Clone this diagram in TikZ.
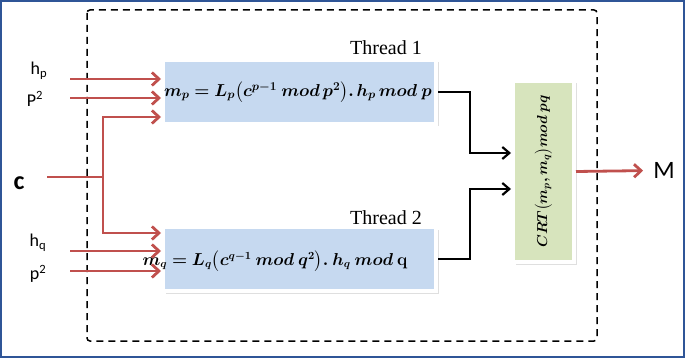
\documentclass[tikz,border=0pt]{standalone}
\usepackage{amsmath, bm}
\usepackage[no-math]{fontspec}
\setmainfont{Liberation Serif}
\newfontfamily\labelfont{Carlito}
\usetikzlibrary{positioning, arrows.meta, shadows, calc}
\definecolor{frameblue}{RGB}{47, 85, 151}
\definecolor{arrred}{RGB}{192, 80, 77}
\definecolor{boxblue}{RGB}{198, 217, 240}
\definecolor{boxgreen}{RGB}{215, 228, 189}

\begin{document}
\begin{tikzpicture}[x=1pt, y=-1pt,
      blk/.style={fill=boxblue, draw=white, line width=4pt, minimum width=273pt, minimum height=64pt, drop shadow={shadow xshift=2.5pt, shadow yshift=-2.5pt, opacity=0.25}},
      grn/.style={fill=boxgreen, draw=white, line width=4pt, minimum width=61pt, minimum height=181pt, drop shadow={shadow xshift=2.5pt, shadow yshift=-2.5pt, opacity=0.25}},
      lab/.style={font=\labelfont\fontsize{18}{20}\selectfont, inner sep=0pt},
      big/.style={font=\labelfont\fontsize{25}{27}\selectfont, inner sep=0pt},
      thr/.style={font=\fontsize{20}{24}\selectfont, inner sep=0pt},
      eq/.style={font=\fontsize{17}{20}\selectfont, inner sep=0pt},
      rarr/.style={-{Straight Barb[length=7pt, width=13pt]}, line width=2.8pt, color=arrred},
      rln/.style={line width=2.8pt, color=arrred},
      barr/.style={-{Straight Barb[length=7pt, width=12pt]}, line width=2.2pt, color=black}]
    \useasboundingbox (0,0) rectangle (685,358);
    \draw[frameblue, line width=2pt] (1,1) rectangle (684,357);
    \draw[dashed, line width=1.5pt, dash pattern=on 7pt off 5pt, rounded corners=3pt] (87,10) rectangle (597,341);
    % the two threads and the combining step
    \node[blk] (t1) at (299.5,92) {};
    \node[blk] (t2) at (299.5,259) {};
    \node[grn] (crt) at (543.5,171.5) {};
    \node[eq] (f1) at (298,92) {$\bm{m_p = L_p\big(c^{p-1}\ mod\, p^2\big).\, h_p\, mod\ p}$};
    \node[eq, font=\fontsize{16}{19}\selectfont] (f2) at (275,261) {$\bm{m_q = L_q\big(c^{q-1}\ mod\ q^2\big).\ h_q\ mod}\ \mathbf{q}$};
    \node[eq, font=\fontsize{14}{16}\selectfont, rotate=90] (fc) at (crt.center) {$\bm{CRT\big(m_p, m_q\big) mod\ pq}$};
    \node[thr] (th1) at (386,48) {Thread 1};
    \node[thr] (th2) at (386,218) {Thread 2};
    % inputs and output
    \node[lab] (hp) at (39,71) {h\textsubscript{p}};
    \node[lab] (P2) at (35,99) {P\textsuperscript{2}};
    \node[big, font=\labelfont\bfseries\fontsize{26}{28}\selectfont] (c) at (19,183) {c};
    \node[lab] (hq) at (38,243) {h\textsubscript{q}};
    \node[lab] (p2) at (38,274) {p\textsuperscript{2}};
    \node[big] (M) at (664,170.5) {M};
    \coordinate (hpin) at (70,79);
    \coordinate (P2in) at (70,98);
    \coordinate (cin) at (47,177);
    \coordinate (cbr) at (103,177);
    \coordinate (hqin) at (70,251);
    \coordinate (p2in) at (70,271);
    \draw[rarr] (hpin) -- (hpin -| t1.west);
    \draw[rarr] (P2in) -- (P2in -| t1.west);
    \draw[rln] (cin) -- (cbr);
    \draw[rarr] (cbr) |- ($(t1.west)+(0,25)$);
    \draw[rarr] (cbr) |- ($(t2.west)+(0,-26)$);
    \draw[rarr] (hqin) -- (hqin -| t2.west);
    \draw[rarr] (p2in) -- (p2in -| t2.west);
    \draw[barr] (t1.east) -- ++(32,0) |- ($(crt.west)+(0,-18.5)$);
    \draw[barr] (t2.east) -- ++(32,0) |- ($(crt.west)+(0,17.5)$);
    \draw[rarr, shorten >=10pt] (crt.east) -- (M.west);
  \end{tikzpicture}
\end{document}
